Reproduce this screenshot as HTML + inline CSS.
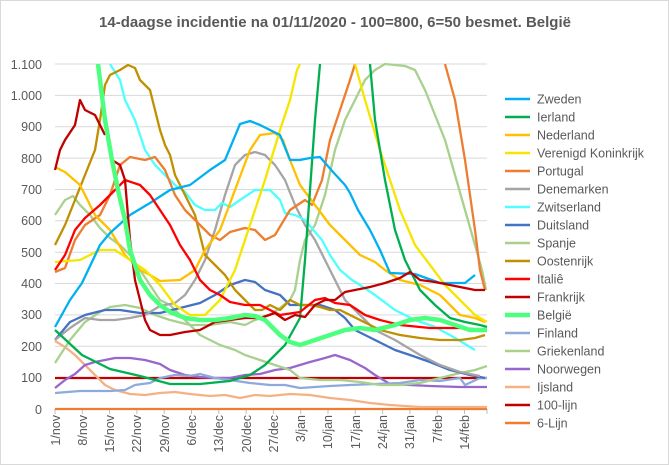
<!DOCTYPE html>
<html><head><meta charset="utf-8"><style>
body{margin:0;background:#fff}
svg{display:block;font-family:"Liberation Sans",Arial,sans-serif}
</style></head><body>
<svg width="669" height="465" viewBox="0 0 669 465">
<rect x="0" y="0" width="669" height="465" fill="#fff"/>
<rect x="0.5" y="0.5" width="668" height="464" fill="none" stroke="#d9d9d9"/>
<text x="335" y="27" text-anchor="middle" font-size="15" font-weight="bold" fill="#595959">14-daagse incidentie na 01/11/2020 - 100=800, 6=50 besmet. België</text>
<g stroke="#d9d9d9" stroke-width="1">
<line x1="55" x2="487" y1="64" y2="64"/><line x1="55" x2="487" y1="95.4" y2="95.4"/><line x1="55" x2="487" y1="126.7" y2="126.7"/><line x1="55" x2="487" y1="158.1" y2="158.1"/><line x1="55" x2="487" y1="189.5" y2="189.5"/><line x1="55" x2="487" y1="220.8" y2="220.8"/><line x1="55" x2="487" y1="252.2" y2="252.2"/><line x1="55" x2="487" y1="283.5" y2="283.5"/><line x1="55" x2="487" y1="314.9" y2="314.9"/><line x1="55" x2="487" y1="346.3" y2="346.3"/><line x1="55" x2="487" y1="377.6" y2="377.6"/>
</g>
<g font-size="12.5" fill="#595959" text-anchor="end">
<text x="42" y="69">1.100</text><text x="42" y="100">1.000</text><text x="42" y="131">900</text><text x="42" y="163">800</text><text x="42" y="194">700</text><text x="42" y="225">600</text><text x="42" y="257">500</text><text x="42" y="288">400</text><text x="42" y="319">300</text><text x="42" y="351">200</text><text x="42" y="382">100</text><text x="42" y="414">0</text>
</g>
<g stroke="#bfbfbf"><line x1="55" x2="487" y1="409" y2="409"/>
<line x1="55" x2="55" y1="409" y2="414"/><line x1="82.3" x2="82.3" y1="409" y2="414"/><line x1="109.6" x2="109.6" y1="409" y2="414"/><line x1="136.9" x2="136.9" y1="409" y2="414"/><line x1="164.2" x2="164.2" y1="409" y2="414"/><line x1="191.5" x2="191.5" y1="409" y2="414"/><line x1="218.8" x2="218.8" y1="409" y2="414"/><line x1="246.1" x2="246.1" y1="409" y2="414"/><line x1="273.4" x2="273.4" y1="409" y2="414"/><line x1="300.7" x2="300.7" y1="409" y2="414"/><line x1="328" x2="328" y1="409" y2="414"/><line x1="355.3" x2="355.3" y1="409" y2="414"/><line x1="382.6" x2="382.6" y1="409" y2="414"/><line x1="409.9" x2="409.9" y1="409" y2="414"/><line x1="437.2" x2="437.2" y1="409" y2="414"/><line x1="464.5" x2="464.5" y1="409" y2="414"/><line x1="487" x2="487" y1="409" y2="414"/></g>
<g font-size="12.5" fill="#595959" text-anchor="end">
<text transform="translate(60,415) rotate(-90)">1/nov</text>
<text transform="translate(87,415) rotate(-90)">8/nov</text>
<text transform="translate(114,415) rotate(-90)">15/nov</text>
<text transform="translate(141,415) rotate(-90)">22/nov</text>
<text transform="translate(169,415) rotate(-90)">29/nov</text>
<text transform="translate(196,415) rotate(-90)">6/dec</text>
<text transform="translate(223,415) rotate(-90)">13/dec</text>
<text transform="translate(251,415) rotate(-90)">20/dec</text>
<text transform="translate(278,415) rotate(-90)">27/dec</text>
<text transform="translate(305,415) rotate(-90)">3/jan</text>
<text transform="translate(332,415) rotate(-90)">10/jan</text>
<text transform="translate(360,415) rotate(-90)">17/jan</text>
<text transform="translate(387,415) rotate(-90)">24/jan</text>
<text transform="translate(414,415) rotate(-90)">31/jan</text>
<text transform="translate(442,415) rotate(-90)">7/feb</text>
<text transform="translate(469,415) rotate(-90)">14/feb</text>
</g>
<g fill="none" stroke-width="2.3" stroke-linejoin="round">
<polyline stroke="#ED7D31" points="55,409 487,409"/>
<polyline stroke="#C00000" points="55,378 487,378"/>
<polyline stroke="#F4B183" points="55,341 65,347 75,355 85,365 95,375 105,385 115,390 130,394 145,395 160,393 175,392 190,394 210,396 225,395 240,398 255,395 270,396 290,394 310,395 330,398 350,400 370,403 390,405 420,407 460,407 487,407"/>
<polyline stroke="#9966CC" points="55,388 65,380 75,374 85,365 95,362 105,360 115,358 130,358 145,360 160,364 170,370 185,375 200,377 215,378 230,378 245,375 260,374 275,370 290,368 310,362 325,358 335,355 350,360 365,368 375,375 390,384 410,385 430,386 460,387 487,387"/>
<polyline stroke="#8EA9DB" points="55,393 80,391 110,391 125,390 135,385 150,383 160,378 175,375 190,376 200,374 215,378 230,380 250,383 270,385 285,385 300,388 315,387 330,386 350,385 375,384 400,383 420,380 440,381 460,378 465,385 480,378 487,378"/>
<polyline stroke="#A9D18E" points="55,215 65,200 73,196 80,205 90,215 100,228 110,238 120,245 130,255 140,270 150,285 160,300 170,305 180,315 190,325 200,335 210,340 220,345 235,350 245,355 260,360 275,365 290,370 300,378 320,380 340,380 360,382 380,385 400,385 420,383 440,378 460,373 475,370 487,366"/>
<polyline stroke="#A9D18E" points="55,363 70,340 85,322 100,312 110,307 125,305 140,308 155,315 170,320 190,325 210,325 230,322 245,325 255,320 270,315 280,308 290,300 295,290 300,260 305,240 315,225 325,195 335,150 345,120 355,100 365,80 375,70 385,64 405,66 415,70 425,90 435,115 445,140 455,175 465,210 475,245 482,270 486,290"/>
<polyline stroke="#4472C4" points="55,340 70,322 85,315 105,310 120,310 140,313 160,313 180,308 200,303 215,295 230,285 245,280 255,282 265,290 280,295 290,305 300,305 320,305 335,310 345,318 355,330 375,340 395,350 410,355 430,362 450,370 470,375 485,378"/>
<polyline stroke="#A5A5A5" points="55,340 70,328 85,318 100,320 115,320 130,318 145,315 160,306 175,303 185,295 195,280 205,260 215,230 225,195 235,165 245,155 255,152 265,155 275,165 285,180 295,205 305,225 315,240 325,260 335,280 345,300 360,315 375,330 395,340 420,355 440,365 460,372 480,376"/>
<polyline stroke="#4FFFFF" points="110,64 120,80 125,100 135,120 145,150 155,165 165,175 175,185 185,192 195,205 205,210 215,210 222,203 230,207 240,200 255,190 270,190 280,200 285,213 295,215 305,220 315,232 322,240 330,255 340,270 352,280 360,285 375,295 395,310 415,320 435,327 450,335 475,350"/>
<polyline stroke="#BF9000" points="55,245 65,225 75,200 85,175 95,150 100,120 105,85 110,75 120,70 128,65 135,68 140,80 145,85 150,90 155,110 160,130 165,145 170,155 175,175 185,195 195,215 200,235 205,255 215,265 225,275 235,290 245,300 255,310 262,310 270,305 280,310 290,300 300,305 310,305 320,307 330,310 340,310 350,315 360,320 370,325 380,330 400,335 420,338 440,340 460,340 475,338 485,335"/>
<polyline stroke="#ED7D31" points="55,272 65,268 75,240 85,225 100,215 110,195 120,165 130,157 145,160 155,157 165,170 175,195 185,210 200,225 210,235 220,240 230,232 245,228 255,230 265,240 275,235 290,210 305,200 312,205 322,180 330,140 340,110 350,80 355,64"/>
<polyline stroke="#ED7D31" points="445,64 455,100 465,160 475,230 480,270 485,290"/>
<polyline stroke="#FFC000" points="55,167 65,172 80,185 95,215 110,230 125,255 140,270 150,275 160,281 180,280 195,270 205,250 220,230 235,190 250,150 260,135 275,133 283,140 290,160 300,185 315,205 330,225 345,240 360,255 375,262 385,270 400,280 420,285 440,295 460,315 475,318 485,322"/>
<polyline stroke="#F5E600" points="55,262 80,260 100,250 115,250 130,260 145,270 160,285 175,305 190,315 205,315 220,300 235,270 250,225 265,180 280,130 290,100 297,70 300,64"/>
<polyline stroke="#F5E600" points="355,64 365,100 380,150 390,180 400,210 415,245 430,265 445,285 460,300 475,315 487,322"/>
<polyline stroke="#00B050" points="55,330 82,355 110,369 140,376 170,384 200,384 230,381 250,375 265,365 285,345 300,318 305,260 310,190 315,120 320,64"/>
<polyline stroke="#00B050" points="370,64 375,120 385,180 395,230 405,260 420,290 435,305 450,318 465,322 480,325 487,327"/>
<polyline stroke="#00B0F0" points="55,327 70,300 82,283 100,245 110,233 130,215 150,203 170,190 190,185 210,170 225,160 240,124 250,121 260,125 270,130 280,135 290,160 300,160 310,158 320,157 333,172 345,185 350,193 358,210 370,230 380,250 390,273 415,274 440,283 465,283 475,275"/>
<polyline stroke="#FF0000" points="55,270 65,255 75,230 85,218 100,205 110,195 125,180 140,185 150,195 160,210 170,225 180,245 190,260 200,280 210,290 220,295 230,302 245,305 260,305 280,315 300,312 315,300 325,298 335,303 350,305 365,315 380,320 400,325 430,328 460,328 487,330"/>
<polyline stroke="#C00000" points="55,170 60,150 65,140 75,125 80,100 85,110 95,115 100,125 105,135"/>
<polyline stroke="#C00000" points="112,160 120,165 125,180 130,240 135,280 140,300 145,320 150,330 160,335 170,335 185,332 200,330 215,322 230,320 245,318 260,318 275,313 285,320 295,315 305,317 315,305 325,300 335,300 345,292 355,290 370,287 385,283 400,278 410,272 420,280 435,282 450,285 465,288 475,290 485,290"/>
<polyline stroke="#4CFF7F" stroke-width="4.5" points="98,64 105,120 112,160 118,190 125,220 130,250 135,265 140,280 150,295 160,305 170,312 185,318 200,320 215,320 230,318 245,315 255,316 265,320 280,335 290,342 300,345 315,340 330,335 345,330 360,328 375,330 395,325 410,320 425,318 440,320 455,325 470,330 487,330"/>
</g>
<g stroke-width="2.5">
<line x1="505" x2="530" y1="99" y2="99" stroke="#00B0F0"/>
<line x1="505" x2="530" y1="117" y2="117" stroke="#00B050"/>
<line x1="505" x2="530" y1="135" y2="135" stroke="#FFC000"/>
<line x1="505" x2="530" y1="153" y2="153" stroke="#F5E600"/>
<line x1="505" x2="530" y1="171" y2="171" stroke="#ED7D31"/>
<line x1="505" x2="530" y1="189" y2="189" stroke="#A5A5A5"/>
<line x1="505" x2="530" y1="207" y2="207" stroke="#4FFFFF"/>
<line x1="505" x2="530" y1="225" y2="225" stroke="#4472C4"/>
<line x1="505" x2="530" y1="243" y2="243" stroke="#A9D18E"/>
<line x1="505" x2="530" y1="261" y2="261" stroke="#BF9000"/>
<line x1="505" x2="530" y1="279" y2="279" stroke="#FF0000"/>
<line x1="505" x2="530" y1="297" y2="297" stroke="#C00000"/>
<line x1="505" x2="530" y1="315" y2="315" stroke="#4CFF7F" stroke-width="4.5"/>
<line x1="505" x2="530" y1="333" y2="333" stroke="#8EA9DB"/>
<line x1="505" x2="530" y1="351" y2="351" stroke="#A9D18E"/>
<line x1="505" x2="530" y1="369" y2="369" stroke="#9966CC"/>
<line x1="505" x2="530" y1="387" y2="387" stroke="#F4B183"/>
<line x1="505" x2="530" y1="405" y2="405" stroke="#C00000"/>
<line x1="505" x2="530" y1="423" y2="423" stroke="#ED7D31"/>
</g>
<g font-size="12.5" fill="#595959">
<text x="537" y="103.5">Zweden</text><text x="537" y="121.5">Ierland</text><text x="537" y="139.5">Nederland</text><text x="537" y="157.5">Verenigd Koninkrijk</text><text x="537" y="175.5">Portugal</text><text x="537" y="193.5">Denemarken</text><text x="537" y="211.5">Zwitserland</text><text x="537" y="229.5">Duitsland</text><text x="537" y="247.5">Spanje</text><text x="537" y="265.5">Oostenrijk</text><text x="537" y="283.5">Italiê</text><text x="537" y="301.5">Frankrijk</text><text x="537" y="319.5">België</text><text x="537" y="337.5">Finland</text><text x="537" y="355.5">Griekenland</text><text x="537" y="373.5">Noorwegen</text><text x="537" y="391.5">Ijsland</text><text x="537" y="409.5">100-lijn</text><text x="537" y="427.5">6-Lijn</text>
</g>
</svg>
</body></html>
